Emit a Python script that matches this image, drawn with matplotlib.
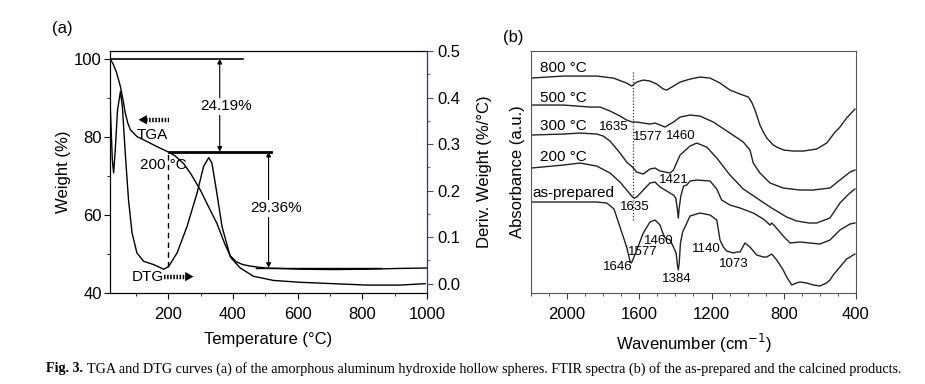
import matplotlib
matplotlib.use('Agg')
import matplotlib.pyplot as plt
from matplotlib.ticker import MultipleLocator

plt.rcParams['font.family'] = ['Liberation Sans', 'DejaVu Sans']
plt.rcParams['font.size'] = 12

# ---- (a) TGA / DTG ----
tga_temp = [20, 30, 40, 52, 60, 67, 75, 83, 103, 125, 144, 170, 196, 220, 247,
            270, 299, 325, 350, 375, 392, 410, 430, 453, 480, 505, 608, 711,
            814, 917, 1000]
tga_weight = [100, 98.6, 96.5, 92.9, 89.5, 86.1, 83.5, 81.8, 80.1, 79.2, 78.4,
              77.3, 76.3, 75.2, 73.2, 70.5, 66.4, 62.0, 57.9, 52.5, 49.5, 48.0,
              47.3, 46.9, 46.6, 46.4, 46.1, 46.0, 46.1, 46.3, 46.4]

dtg_temp = [21, 27, 31, 36, 43, 52, 58, 67, 77, 88, 103, 124, 155, 186, 201,
            227, 258, 289, 309, 325, 335, 350, 366, 392, 422, 463, 525, 608,
            711, 814, 917, 994]
dtg_rate = [0.373, 0.266, 0.238, 0.288, 0.373, 0.413, 0.381, 0.280, 0.180,
            0.109, 0.066, 0.048, 0.041, 0.031, 0.037, 0.066, 0.123, 0.195,
            0.252, 0.271, 0.259, 0.195, 0.123, 0.057, 0.034, 0.016, 0.007,
            0.003, 0.0, -0.003, -0.003, 0.0]

loss1 = '24.19%'
loss2 = '29.36%'

# ---- (b) FTIR ----
wn_800 = [2200, 2020, 1836, 1744, 1670, 1642, 1614, 1578, 1541, 1503, 1467,
          1448, 1420, 1374, 1319, 1264, 1208, 1153, 1098, 1042, 996, 978, 959,
          932, 913, 894, 858, 839, 800, 747, 692, 618, 562, 520, 489, 452, 406]
ab_800 = [2.15, 2.17, 2.17, 2.15, 2.10, 2.07, 2.11, 2.13, 2.12, 2.09, 2.04,
          2.03, 2.06, 2.11, 2.14, 2.16, 2.15, 2.10, 2.03, 1.99, 1.96, 1.91,
          1.83, 1.68, 1.61, 1.55, 1.48, 1.46, 1.43, 1.42, 1.42, 1.44, 1.50,
          1.60, 1.66, 1.75, 1.84]

wn_500 = [2200, 2020, 1873, 1817, 1762, 1707, 1670, 1638, 1614, 1578, 1541,
          1513, 1485, 1457, 1430, 1411, 1374, 1319, 1264, 1190, 1098, 1024,
          987, 969, 932, 876, 803, 710, 640, 544, 489, 433, 406]
ab_500 = [1.88, 1.88, 1.86, 1.86, 1.82, 1.77, 1.73, 1.71, 1.71, 1.70, 1.69,
          1.70, 1.68, 1.66, 1.69, 1.71, 1.76, 1.78, 1.77, 1.71, 1.60, 1.51,
          1.43, 1.30, 1.20, 1.10, 1.05, 1.03, 1.03, 1.05, 1.13, 1.21, 1.23]

wn_300 = [2200, 2020, 1928, 1836, 1800, 1762, 1707, 1670, 1638, 1614, 1578,
          1541, 1513, 1485, 1457, 1430, 1411, 1374, 1319, 1282, 1227, 1171,
          1098, 1024, 950, 876, 784, 728, 660, 618, 544, 489, 440, 406]
ab_300 = [1.58, 1.59, 1.60, 1.59, 1.57, 1.52, 1.40, 1.31, 1.26, 1.21, 1.19,
          1.24, 1.25, 1.22, 1.21, 1.20, 1.23, 1.38, 1.47, 1.50, 1.46, 1.35,
          1.18, 1.04, 0.95, 0.86, 0.76, 0.72, 0.70, 0.70, 0.75, 0.90, 0.99, 1.04]

wn_200 = [2200, 2020, 1928, 1836, 1762, 1707, 1670, 1642, 1630, 1614, 1578,
          1541, 1513, 1485, 1457, 1430, 1411, 1398, 1390, 1384, 1379, 1370,
          1355, 1337, 1319, 1282, 1208, 1171, 1144, 1098, 1042, 969, 913, 894,
          876, 867, 850, 803, 765, 710, 655, 599, 544, 489, 433, 406]
ab_200 = [1.25, 1.28, 1.30, 1.27, 1.20, 1.11, 1.03, 0.97, 0.95, 0.96, 1.03,
          1.10, 1.11, 1.06, 1.03, 1.00, 0.98, 0.95, 0.85, 0.75, 0.85, 0.97,
          1.07, 1.08, 1.12, 1.13, 1.12, 1.04, 0.93, 0.88, 0.85, 0.80, 0.74,
          0.71, 0.68, 0.70, 0.67, 0.57, 0.50, 0.51, 0.50, 0.49, 0.53, 0.63,
          0.69, 0.70]

wn_asp = [2200, 2000, 1836, 1780, 1740, 1707, 1670, 1650, 1644, 1636, 1614,
          1578, 1541, 1513, 1485, 1470, 1457, 1430, 1411, 1396, 1389, 1384,
          1379, 1372, 1360, 1347, 1319, 1264, 1208, 1171, 1153, 1135, 1116,
          1079, 1061, 1042, 1015, 987, 950, 913, 894, 867, 839, 803, 784, 756,
          730, 710, 673, 636, 600, 563, 544, 526, 489, 452, 406]
ab_asp = [0.91, 0.91, 0.91, 0.90, 0.84, 0.66, 0.46, 0.31, 0.30, 0.33, 0.43,
          0.60, 0.71, 0.73, 0.68, 0.60, 0.55, 0.53, 0.46, 0.40, 0.28, 0.23,
          0.30, 0.50, 0.61, 0.66, 0.77, 0.80, 0.78, 0.73, 0.53, 0.46, 0.42,
          0.40, 0.41, 0.41, 0.50, 0.46, 0.38, 0.36, 0.36, 0.39, 0.33, 0.23,
          0.16, 0.08, 0.10, 0.11, 0.10, 0.08, 0.07, 0.10, 0.13, 0.18, 0.26,
          0.34, 0.39]

spectra = [(wn_800, ab_800, '800 °C', 2150, 2.25),
           (wn_500, ab_500, '500 °C', 2150, 1.95),
           (wn_300, ab_300, '300 °C', 2150, 1.67),
           (wn_200, ab_200, '200 °C', 2150, 1.36),
           (wn_asp, ab_asp, 'as-prepared', 2190, 1.00)]

# peak labels: text, wavenumber, absorbance, alignment
peaks = [('1635', 1657, 1.66, 'right'), ('1577', 1635, 1.56, 'left'),
         ('1460', 1370, 1.57, 'center'), ('1421', 1409, 1.13, 'center'),
         ('1635', 1625, 0.86, 'center'), ('1460', 1491, 0.52, 'center'),
         ('1577', 1582, 0.41, 'center'), ('1646', 1719, 0.26, 'center'),
         ('1384', 1393, 0.14, 'center'), ('1140', 1228, 0.44, 'center'),
         ('1073', 1078, 0.29, 'center')]

fig = plt.figure(figsize=(9.25, 3.84), dpi=100)
ax1 = fig.add_axes([0.119, 0.237, 0.3427, 0.630])
ax2 = ax1.twinx()
ax3 = fig.add_axes([0.574, 0.237, 0.3514, 0.630])

# (a)
ax1.plot(tga_temp, tga_weight, color='k', lw=1)
ax2.plot(dtg_temp, dtg_rate, color='k', lw=1)
ax1.set_xlim(20, 1000)
ax1.set_ylim(40, 102)
ax2.set_ylim(-0.02, 0.5)
ax1.xaxis.set_major_locator(MultipleLocator(200))
ax1.xaxis.set_minor_locator(MultipleLocator(100))
ax1.yaxis.set_major_locator(MultipleLocator(20))
ax1.yaxis.set_minor_locator(MultipleLocator(10))
ax2.yaxis.set_major_locator(MultipleLocator(0.1))
ax2.yaxis.set_minor_locator(MultipleLocator(0.05))
ax1.tick_params(which='both', direction='out', top=False, right=False)
ax1.tick_params(which='major', length=4, labelsize=12)
ax1.tick_params(which='minor', length=2)
ax1.tick_params(axis='y', pad=2)
ax1.tick_params(axis='x', pad=6)
ax2.tick_params(which='both', direction='out', color='#4040c0', labelsize=12)
ax2.tick_params(which='major', length=4)
ax2.tick_params(which='minor', length=2)
ax2.spines['right'].set_color('#303080')
ax1.set_xlabel('Temperature (°C)', labelpad=7)
ax1.set_ylabel('Weight (%)', labelpad=2)
ax2.set_ylabel('Deriv. Weight (%/°C)', labelpad=12)

ax1.plot([20, 431], [100, 100], color='k', lw=1.2)
ax1.plot([201, 517], [76.2, 76.2], color='k', lw=2)
ax1.plot([470, 857], [46.45, 46.45], color='k', lw=1)
ax1.plot([200, 200], [46.7, 76.2], color='k', lw=1, ls=(0, (4, 3)))
arw = dict(arrowstyle='-|>', color='k', lw=0.8, mutation_scale=7, shrinkA=0, shrinkB=0)
ax1.annotate('', xy=(359, 100), xytext=(359, 90), arrowprops=arw)
ax1.annotate('', xy=(359, 76.2), xytext=(359, 85.5), arrowprops=arw)
ax1.text(380, 87.8, loss1, ha='center', va='center', fontsize=11)
ax1.annotate('', xy=(510, 76.2), xytext=(510, 46.45),
             arrowprops=dict(arw, arrowstyle='<|-|>'))
ax1.text(533, 61.7, loss2, ha='center', va='center', fontsize=11,
         bbox=dict(fc='white', ec='none', pad=1))
ax1.text(151, 80.5, 'TGA', ha='center', va='center', fontsize=11)
ax1.text(185, 72.8, '200 °C', ha='center', va='center', fontsize=11)
ax1.text(137, 44.2, 'DTG', ha='center', va='center', fontsize=11)

# hatched "direction" arrows: dotted shaft + filled head
head = dict(arrowstyle='-|>,head_length=0.5,head_width=0.28', color='k', lw=0,
            mutation_scale=12, shrinkA=0, shrinkB=0)
ax1.plot([132, 201], [84.4, 84.4], color='k', lw=3.2,
         ls=(0, (0.35, 0.35)), dash_capstyle='butt')
ax1.annotate('', xy=(108, 84.4), xytext=(133, 84.4), arrowprops=head)
ax1.plot([186, 253], [44.2, 44.2], color='k', lw=3.2,
         ls=(0, (0.35, 0.35)), dash_capstyle='butt')
ax1.annotate('', xy=(278, 44.2), xytext=(252, 44.2), arrowprops=head)
fig.text(0.056, 0.914, '(a)', fontsize=12)

# (b)
for wn, ab, name, lx, ly in spectra:
    ax3.plot(wn, ab, color='#222222', lw=1)
    ax3.text(lx, ly, name, fontsize=11, ha='left', va='center')
for txt, x, y, ha in peaks:
    ax3.text(x, y, txt, fontsize=9.5, ha=ha, va='center')
ax3.plot([1635, 1635], [0.73, 2.22], color='#333333', lw=0.9, ls=(0, (1, 1.5)))
ax3.set_xlim(2200, 400)
ax3.set_ylim(0, 2.42)
ax3.xaxis.set_major_locator(MultipleLocator(400))
ax3.xaxis.set_minor_locator(MultipleLocator(100))
ax3.set_yticks([])
ax3.tick_params(which='both', direction='out', top=False, labelsize=12,
                color='#444444', pad=6)
ax3.tick_params(which='major', length=4)
ax3.tick_params(which='minor', length=2)
for s in ax3.spines.values():
    s.set_color('#555555')
ax3.set_xlabel('Wavenumber (cm$^{-1}$)', labelpad=7)
ax3.set_ylabel('Absorbance (a.u.)', labelpad=4)
fig.text(0.544, 0.89, '(b)', fontsize=12)

# caption
r = fig.canvas.get_renderer()
t = fig.text(0.05, 0.03, 'Fig. 3.', fontsize=10.2, fontweight='bold',
             family='Liberation Serif')
bb = t.get_window_extent(r)
fig.text((bb.x1 + 4) / fig.bbox.width, 0.03,
         'TGA and DTG curves (a) of the amorphous aluminum hydroxide hollow '
         'spheres. FTIR spectra (b) of the as-prepared and the calcined products.',
         fontsize=10.2, family='Liberation Serif')

fig.savefig('out.png', dpi=100)
